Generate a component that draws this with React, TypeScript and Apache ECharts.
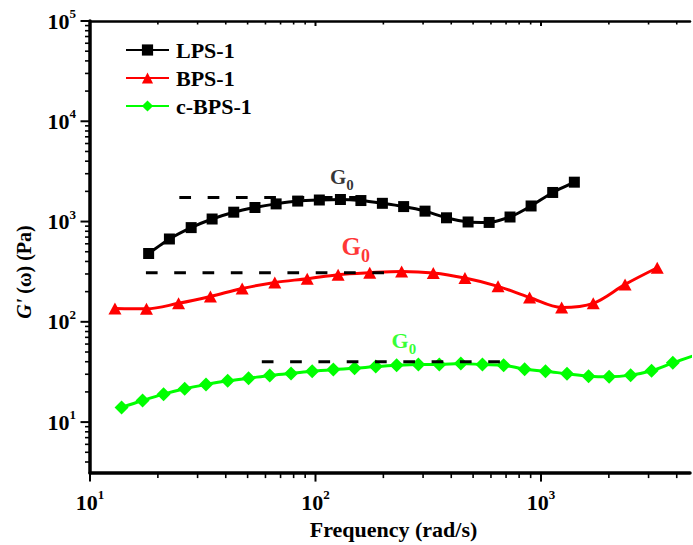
import React, { useEffect, useRef } from 'react';
import * as echarts from 'echarts';

// ---- data ----
const lpsFreq = [18.2, 22.5, 28.1, 34.8, 43.4, 53.9, 66.9, 83.4, 104, 129, 159, 198, 246, 306, 381, 475, 589, 729, 904, 1127, 1406];
const lpsG = [480, 670, 870, 1060, 1240, 1380, 1500, 1600, 1640, 1660, 1620, 1520, 1410, 1270, 1090, 990, 980, 1110, 1430, 1950, 2470];

const bpsFreq = [12.9, 17.8, 24.7, 34.2, 47.3, 66.0, 91.9, 126, 174, 241, 333, 460, 645, 890, 1235, 1705, 2360, 3278];
const bpsG = [136, 135, 153, 179, 215, 247, 269, 295, 309, 318, 307, 273, 226, 175, 139, 153, 236, 346];

const cbpsFreq = [13.8, 17.1, 21.2, 26.3, 32.7, 40.8, 50.5, 62.7, 77.9, 96.7, 120, 149, 185, 229, 286, 354, 441, 550, 683, 846, 1047, 1304, 1626, 2006, 2498, 3093, 3843, 4772];
const cbpsG = [14.0, 16.4, 19.0, 21.5, 23.7, 25.8, 27.4, 29.2, 30.6, 32.2, 33.4, 34.4, 35.8, 36.9, 37.5, 37.5, 38.3, 37.5, 36.9, 33.7, 32.2, 30.3, 28.7, 28.3, 29.4, 32.5, 39.0, 46.1];

// G0 plateau (dashed) lines: [start freq, end freq], plateau value
const g0LpsFreq = [24.9, 187];
const g0LpsValue = 1733;
const g0BpsFreq = [17.7, 233];
const g0BpsValue = 308;
const g0CbpsFreq = [57.8, 764];
const g0CbpsValue = 39.9;

// G0 annotation anchors (data units)
const g0LabelFreq = [131.5, 151.5, 248];
const g0LabelValue = [2754, 555, 64.6];

const seriesNames = ['LPS-1', 'BPS-1', 'c-BPS-1'];
const seriesColors = ['#000000', '#ff0000', '#00ff00'];

const X_MIN = 10;
const X_MAX = 4580;
const Y_MIN = 3.1;
const Y_MAX = 100000;

const FONT = '"Liberation Serif", "Times New Roman", serif';

function isDecade(v: number) {
  const l = Math.log10(v);
  return Math.abs(l - Math.round(l)) < 1e-6;
}

function logTicks(lo: number, hi: number) {
  const out: number[] = [];
  for (let e = Math.floor(Math.log10(lo)); e <= Math.ceil(Math.log10(hi)); e++) {
    const d = Math.pow(10, e);
    for (let m = 1; m <= 9; m++) {
      const v = m * d;
      if (v >= lo - 1e-9 && v <= hi + 1e-9) out.push(v);
    }
  }
  return out;
}

const pow10Label = (v: number) => (isDecade(v) ? `{b|10}{s|${Math.round(Math.log10(v))}}` : '');

const tickRich = {
  b: { fontSize: 22, fontWeight: 'bold', fontFamily: FONT, color: '#000' },
  s: { fontSize: 13, fontWeight: 'bold', fontFamily: FONT, color: '#000', padding: [0, 0, 15, 0] },
};

function zip(xs: number[], ys: number[]) {
  return xs.map((x, i) => [x, ys[i]]);
}

export default function App() {
  const ref = useRef<HTMLDivElement>(null);

  useEffect(() => {
    if (!ref.current) return;
    const chart = echarts.init(ref.current, null, { renderer: 'svg' });

    const xTickVals = logTicks(X_MIN, X_MAX);
    const yTickVals = logTicks(Y_MIN, Y_MAX);

    const symbols = ['rect', 'triangle', 'diamond'];
    const symbolSizes: any[] = [11, [13, 12], 14];
    const freqs = [lpsFreq, bpsFreq, cbpsFreq];
    const vals = [lpsG, bpsG, cbpsG];
    const smooth = [0.2, 0.35, 0.35];

    const dataSeries = seriesNames.map((name, i) => ({
      name,
      type: 'line',
      data: zip(freqs[i], vals[i]),
      symbol: symbols[i],
      symbolSize: symbolSizes[i],
      smooth: smooth[i],
      itemStyle: { color: seriesColors[i] },
      lineStyle: { color: seriesColors[i], width: 3 },
      z: 2,
    }));

    const dashed = [
      [g0LpsFreq, g0LpsValue],
      [g0BpsFreq, g0BpsValue],
      [g0CbpsFreq, g0CbpsValue],
    ].map(([f, v]: any, i) => ({
      name: 'G0-' + i,
      type: 'line',
      data: [[f[0], v], [f[1], v]],
      symbol: 'none',
      lineStyle: { color: '#000', width: 3, type: [11.7, 16.6] },
      z: 3,
      silent: true,
    }));

    const g0Sizes = [21, 25, 22];
    const g0Labels = g0LabelFreq.map((f, i) => ({
      name: 'G0label-' + i,
      type: 'scatter',
      data: [[f, g0LabelValue[i]]],
      symbol: 'circle',
      symbolSize: 1,
      itemStyle: { color: 'rgba(0,0,0,0)' },
      silent: true,
      z: 4,
      label: {
        show: true,
        position: [0, 0],
        align: 'center',
        verticalAlign: 'middle',
        color: seriesColors[i],
        textBorderWidth: 0,
        fontSize: g0Sizes[i],
        fontWeight: 'bold',
        fontFamily: FONT,
        formatter: '{g|G}{s|0}',
        rich: {
          g: { fontSize: g0Sizes[i], fontWeight: 'bold', fontFamily: FONT, color: seriesColors[i], textBorderWidth: 0 },
          s: {
            fontSize: Math.round(g0Sizes[i] * 0.7),
            fontWeight: 'bold',
            fontFamily: FONT,
            color: seriesColors[i],
            textBorderWidth: 0,
            padding: [Math.round(g0Sizes[i] * 0.75), 0, 0, 0],
          },
        },
      },
    }));

    const xTickSeries = {
      name: 'xticks',
      type: 'custom',
      silent: true,
      clip: false,
      data: xTickVals.map((v) => [v, Y_MIN]),
      renderItem: (params: any, api: any) => {
        const v = api.value(0);
        const major = isDecade(v);
        const b = api.coord([v, Y_MIN]);
        const t = api.coord([v, Y_MAX]);
        const st = { stroke: '#000', lineWidth: major ? 2 : 1.6 };
        return {
          type: 'group',
          children: [
            { type: 'line', shape: { x1: b[0], y1: b[1], x2: b[0], y2: b[1] + (major ? 8.5 : 5) }, style: st },
            { type: 'line', shape: { x1: t[0], y1: t[1], x2: t[0], y2: t[1] + (major ? 5 : 3.5) }, style: st },
          ],
        };
      },
    };

    const yTickSeries = {
      name: 'yticks',
      type: 'custom',
      silent: true,
      clip: false,
      data: yTickVals.map((v) => [X_MIN, v]),
      renderItem: (params: any, api: any) => {
        const v = api.value(1);
        const major = isDecade(v);
        const p = api.coord([X_MIN, v]);
        return {
          type: 'line',
          shape: { x1: p[0], y1: p[1], x2: p[0] - (major ? 9.5 : 5), y2: p[1] },
          style: { stroke: '#000', lineWidth: major ? 2 : 1.6 },
        };
      },
    };

    const option: any = {
      animation: false,
      backgroundColor: '#ffffff',
      grid: { left: 90, right: 0, top: 21, bottom: 70, containLabel: false },
      legend: {
        data: seriesNames,
        orient: 'vertical',
        left: 120,
        top: 34,
        itemWidth: 43,
        itemHeight: 14,
        itemGap: 6,
        textStyle: { fontSize: 22, fontWeight: 'bold', fontFamily: FONT, color: '#000', padding: [0, 0, 0, 2] },
      },
      xAxis: [
        {
          type: 'log',
          logBase: 10,
          min: X_MIN,
          max: X_MAX,
          position: 'bottom',
          axisLine: { show: true, onZero: false, lineStyle: { color: '#000', width: 3.5 } },
          axisTick: { show: false },
          splitLine: { show: false },
          axisLabel: { formatter: pow10Label, rich: tickRich, margin: 15, showMinLabel: true, showMaxLabel: true },
          name: 'Frequency (rad/s)',
          nameLocation: 'middle',
          nameGap: 40,
          nameTextStyle: { fontSize: 22, fontWeight: 'bold', fontFamily: FONT, color: '#000', padding: [0, 0, 0, 7] },
        },
        {
          type: 'log',
          logBase: 10,
          min: X_MIN,
          max: X_MAX,
          position: 'top',
          axisLine: { show: true, onZero: false, lineStyle: { color: '#000', width: 2.5 } },
          axisTick: { show: false },
          axisLabel: { show: false },
          splitLine: { show: false },
        },
      ],
      yAxis: {
        type: 'log',
        logBase: 10,
        min: Y_MIN,
        max: Y_MAX,
        axisLine: { show: true, onZero: false, lineStyle: { color: '#000', width: 3.5 } },
        axisTick: { show: false },
        splitLine: { show: false },
        axisLabel: { formatter: pow10Label, rich: tickRich, margin: 14 },
      },
      graphic: [
        {
          type: 'text',
          x: 24,
          y: 272,
          rotation: Math.PI / 2,
          style: {
            text: "{i|G'} {r|(ω) (Pa)}",
            rich: {
              i: { fontSize: 20, fontWeight: 'bold', fontStyle: 'italic', fontFamily: FONT, fill: '#000' },
              r: { fontSize: 20, fontWeight: 'bold', fontFamily: FONT, fill: '#000' },
            },
            font: `bold 20px ${FONT}`,
            fill: '#000',
            align: 'center',
            verticalAlign: 'middle',
          },
        },
      ],
      series: [...dataSeries, ...dashed, ...g0Labels, xTickSeries, yTickSeries],
    };

    chart.setOption(option);
    return () => chart.dispose();
  }, []);

  return <div ref={ref} style={{ position: 'absolute', left: 0, top: 0, width: 693, height: 545, background: '#fff' }} />;
}
